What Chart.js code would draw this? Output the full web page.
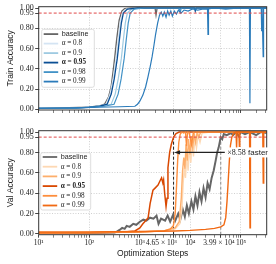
<!DOCTYPE html>
<html>
<head>
<meta charset="utf-8">
<script src="https://cdn.jsdelivr.net/npm/chart.js@4.4.1/dist/chart.umd.min.js"></script>
<style>
    html, body { margin: 0; padding: 0; background: #ffffff; }
    canvas { position: absolute; left: 0; }
    #trainChart { top: 0; }
    #valChart { top: 120px; }
</style>
</head>
<body>
<canvas id="trainChart" width="276" height="120"></canvas>
<canvas id="valChart" width="276" height="144"></canvas>
<script>
// ---- data ----
const STEP_MIN = 10;
const STEP_MAX = 323000;
const THRESHOLD = 0.95;

const yTicks = [0, 0.2, 0.4, 0.6, 0.8, 0.95, 1.0];
const yGridLines = [0.2, 0.4, 0.6, 0.8];
const xMajorTicks = [10, 100, 1000, 4650, 10000, 39900, 100000];
const xMajorLabels = ["10¹", "10²", "10³", "4.65 × 10³\u00a0\u00a0\u00a0\u00a0\u00a0\u00a0\u00a0\u00a0\u00a0\u00a0\u00a0\u00a0\u00a0", "10⁴", "3.99 × 10⁴\u00a0\u00a0", "10⁵"];
const xGridLines = [100, 1000, 4650, 10000, 39900, 100000];

const seriesLabels = ["baseline", "α = 0.8", "α = 0.9", "α = 0.95", "α = 0.98", "α = 0.99"];
const trainColors = ["#666666", "#d4e4f3", "#9ecae1", "#0b4f94", "#4292c6", "#2b7bba"];
const valColors = ["#666666", "#fdd8b3", "#fdae6b", "#d94801", "#fd8d3c", "#f16913"];

// train accuracy
const trainBaseSteps = [10, 40, 100, 160, 200, 240, 270, 300, 320, 350, 390, 440, 500, 700, 1000, 2000, 2090, 2200, 5000, 20000, 100000, 323000];
const trainBaseAcc = [0.01, 0.015, 0.02, 0.035, 0.05, 0.12, 0.22, 0.40, 0.52, 0.70, 0.88, 0.97, 0.995, 1.0, 1.0, 1.0, 0.93, 1.0, 1.0, 1.0, 1.0, 1.0];
const trainA80Steps = [10, 50, 100, 160, 214, 258, 296, 340, 372, 408, 448, 538, 800, 3000, 30000, 323000];
const trainA80Acc = [0.01, 0.012, 0.02, 0.035, 0.05, 0.15, 0.30, 0.50, 0.68, 0.85, 0.95, 0.99, 1.0, 1.0, 1.0, 1.0];
const trainA90Steps = [10, 50, 100, 170, 271, 326, 374, 430, 471, 516, 566, 681, 1000, 5000, 50000, 323000];
const trainA90Acc = [0.01, 0.012, 0.02, 0.035, 0.05, 0.15, 0.30, 0.50, 0.68, 0.85, 0.95, 0.99, 1.0, 1.0, 1.0, 1.0];
const trainA95Steps = [10, 50, 100, 160, 226, 272, 312, 358, 393, 431, 472, 568, 900, 3000, 12000, 12500, 13000, 60000, 323000];
const trainA95Acc = [0.01, 0.012, 0.02, 0.03, 0.05, 0.15, 0.30, 0.50, 0.68, 0.85, 0.95, 0.99, 1.0, 1.0, 1.0, 0.97, 1.0, 1.0, 1.0];
const trainA98Steps = [10, 50, 100, 200, 309, 372, 427, 490, 537, 589, 646, 776, 1200, 4000, 6000, 6300, 6600, 30000, 323000];
const trainA98Acc = [0.01, 0.012, 0.02, 0.03, 0.05, 0.15, 0.30, 0.50, 0.68, 0.85, 0.95, 0.99, 1.0, 1.0, 1.0, 0.96, 1.0, 1.0, 1.0];
const trainA99Steps = [10, 50, 150, 400, 800, 900, 1000, 1150, 1300, 1450, 1600, 1750, 1900, 2050, 2250, 2450, 2650, 2850, 3050, 3300, 3550, 3800, 4100, 4400, 4800, 5300, 5800, 6500, 7500, 9000, 11000, 14000, 18000, 21800, 22300, 22800, 30000, 50000, 90000, 147000, 150500, 154000, 200000, 252000, 257000, 262000, 270000, 275000, 280000, 323000];
const trainA99Acc = [0.01, 0.015, 0.02, 0.025, 0.03, 0.05, 0.08, 0.14, 0.22, 0.32, 0.42, 0.52, 0.63, 0.74, 0.85, 0.93, 0.96, 0.92, 0.96, 0.91, 0.97, 0.93, 0.97, 0.92, 0.97, 0.94, 0.98, 0.95, 0.98, 0.97, 0.99, 0.98, 0.99, 0.99, 0.74, 0.99, 1.0, 0.99, 1.0, 1.0, 0.06, 1.0, 1.0, 1.0, 0.77, 1.0, 1.0, 0.52, 1.0, 1.0];

// val accuracy
const valBaseSteps = [10, 100, 316, 347, 398, 447, 501, 550, 631, 741, 851, 1000, 1175, 1349, 1585, 1862, 2138, 2344, 2630, 3162, 3548, 3981, 4571, 5012, 5754, 6310, 7079, 7762, 8511, 9333, 10471, 11482, 12589, 13804, 15136, 16596, 18197, 19953, 21878, 23988, 26303, 28840, 31623, 33884, 36308, 39811, 42658, 45709, 52481, 63096, 70000, 80000, 90000, 100000, 120000, 150000, 200000, 250000, 323000];
const valBaseAcc = [0.01, 0.01, 0.015, 0.02, 0.04, 0.06, 0.05, 0.08, 0.07, 0.10, 0.09, 0.12, 0.14, 0.13, 0.16, 0.15, 0.18, 0.10, 0.15, 0.13, 0.18, 0.12, 0.19, 0.13, 0.20, 0.14, 0.24, 0.17, 0.28, 0.20, 0.32, 0.24, 0.37, 0.28, 0.41, 0.32, 0.45, 0.36, 0.50, 0.44, 0.55, 0.62, 0.72, 0.80, 0.85, 0.95, 0.93, 0.98, 0.97, 0.99, 0.97, 1.0, 0.96, 1.0, 0.98, 1.0, 0.97, 1.0, 0.99];
const valA80Steps = [10, 1000, 3000, 5000, 6200, 6800, 7200, 7600, 8000, 8500, 9000, 9600, 10200, 10800, 11500, 12300, 13200, 14200, 15500, 17000, 25000, 60000, 323000];
const valA80Acc = [0.01, 0.02, 0.03, 0.05, 0.10, 0.25, 0.50, 0.65, 0.55, 0.78, 0.62, 0.85, 0.70, 0.92, 0.76, 0.95, 0.84, 0.97, 0.90, 0.99, 1.0, 1.0, 1.0];
const valA90Steps = [10, 1000, 3000, 5000, 6000, 6600, 7000, 7400, 7800, 8200, 8700, 9200, 9800, 10400, 11100, 11900, 12700, 13600, 14600, 16000, 20000, 50000, 323000];
const valA90Acc = [0.01, 0.02, 0.03, 0.06, 0.12, 0.35, 0.62, 0.75, 0.64, 0.88, 0.72, 0.93, 0.78, 0.96, 0.85, 0.98, 0.90, 1.0, 0.95, 1.0, 1.0, 1.0, 1.0];
const valA95Steps = [10, 100, 500, 800, 1000, 1150, 1300, 1460, 1600, 1820, 2000, 2290, 2500, 2690, 2850, 2950, 3100, 3300, 3450, 3600, 3890, 4200, 4650, 5200, 6000, 10000, 30000, 100000, 323000];
const valA95Acc = [0.01, 0.012, 0.02, 0.03, 0.06, 0.10, 0.13, 0.16, 0.30, 0.43, 0.45, 0.48, 0.52, 0.55, 0.50, 0.53, 0.40, 0.27, 0.35, 0.65, 0.80, 0.88, 0.95, 0.985, 1.0, 1.0, 1.0, 1.0, 1.0];
const valA98Steps = [10, 100, 1000, 3000, 4000, 4600, 5000, 5300, 5600, 5900, 6300, 6800, 7300, 8000, 8400, 8800, 9500, 10500, 11500, 14000, 20000, 50000, 100000, 323000];
const valA98Acc = [0.01, 0.012, 0.02, 0.03, 0.05, 0.08, 0.20, 0.45, 0.72, 0.90, 0.98, 1.0, 0.99, 1.0, 0.86, 1.0, 0.99, 0.88, 1.0, 1.0, 1.0, 1.0, 1.0, 1.0];
const valA99Steps = [10, 100, 1000, 5000, 10000, 20000, 30000, 40000, 46000, 50000, 53000, 56000, 59000, 62000, 66000, 72000, 80000, 82000, 84000, 91000, 93000, 95000, 120000, 148000, 151000, 154000, 200000, 270000, 276000, 282000, 323000];
const valA99Acc = [0.02, 0.02, 0.025, 0.03, 0.035, 0.045, 0.055, 0.07, 0.09, 0.16, 0.32, 0.52, 0.72, 0.87, 0.95, 0.99, 1.0, 0.84, 1.0, 1.0, 0.86, 1.0, 1.0, 1.0, 0.06, 1.0, 1.0, 1.0, 0.50, 1.0, 1.0];

// speed-up annotation (val panel)
const markerSteps = [4650, 39900];
const markerColors = ["#222222", "#8a8a8a"];
const arrowFrom = 39900;
const arrowTo = 4650;
const arrowY = 0.8;
const speedupText = ["×8.58", " faster"];

// ---- helpers ----
const gridColor = "#c4c4c4";
const serif = "'Liberation Serif', 'DejaVu Serif', serif";
const sans = "'Liberation Sans', Arial, sans-serif";

const minorTicks = [];
for (let p = 1; p <= 5; p++) {
    for (let k = 2; k <= 9; k++) {
        const v = k * Math.pow(10, p);
        if (v < STEP_MAX) minorTicks.push(v);
    }
}
const xTickValues = [...xMajorTicks, ...minorTicks].sort((a, b) => a - b);

const toPoints = (steps, acc) => steps.map((s, i) => ({ x: s, y: acc[i] }));

const buildSeries = (stepsList, accList, colors, widths) =>
    stepsList.map((steps, i) => ({
        label: seriesLabels[i],
        data: toPoints(steps, accList[i]),
        borderColor: colors[i],
        borderWidth: widths[i],
        pointRadius: 0,
        order: -i,
    }));

const thresholdDataset = () => ({
    label: "threshold",
    data: [{ x: STEP_MIN, y: THRESHOLD }, { x: STEP_MAX, y: THRESHOLD }],
    borderColor: "#e04848",
    borderWidth: 1,
    borderDash: [3, 2],
    pointRadius: 0,
    order: -10,
});

const xScale = (showLabels, titleText) => ({
    type: "logarithmic",
    min: STEP_MIN,
    max: STEP_MAX,
    afterBuildTicks: (scale) => {
        scale.ticks = xTickValues.map((v) => ({ value: v }));
    },
    afterFit: (scale) => {
        scale.height = showLabels ? 29.3 : 10;
    },
    ticks: {
        autoSkip: false,
        maxRotation: 0,
        minRotation: 0,
        padding: 1,
        color: "#222",
        font: { family: serif, size: 7.5 },
        callback: (v) => {
            if (!showLabels) return "";
            const i = xMajorTicks.indexOf(v);
            return i >= 0 ? xMajorLabels[i] : "";
        },
    },
    grid: {
        color: (ctx) => (ctx.tick && xGridLines.includes(ctx.tick.value) ? gridColor : "rgba(0,0,0,0)"),
        lineWidth: 0.8,
        tickColor: "#333",
        tickLength: 3,
        tickWidth: (ctx) => (ctx.tick && xMajorTicks.includes(ctx.tick.value) ? 0.9 : 0.6),
        tickBorderDash: [],
    },
    border: { display: false, dash: [1, 1.6] },
    title: {
        display: !!titleText,
        text: titleText || "",
        color: "#222",
        font: { family: sans, size: 8.5 },
        padding: { top: 0, bottom: 5.6 },
    },
});

const yScale = (titleText) => ({
    min: -0.007,
    max: 1.013,
    afterBuildTicks: (scale) => {
        scale.ticks = yTicks.map((v) => ({ value: v }));
    },
    afterFit: (scale) => {
        scale.width = 38.7;
    },
    ticks: {
        autoSkip: false,
        padding: 1.5,
        color: "#222",
        font: { family: serif, size: 8 },
        callback: (v) => v.toFixed(2),
    },
    grid: {
        color: (ctx) => (ctx.tick && yGridLines.includes(ctx.tick.value) ? gridColor : "rgba(0,0,0,0)"),
        lineWidth: 0.8,
        tickColor: "#333",
        tickLength: 3.5,
        tickWidth: 0.9,
        tickBorderDash: [],
    },
    border: { display: false, dash: [1, 1.6] },
    title: {
        display: true,
        text: titleText,
        color: "#222",
        font: { family: sans, size: 8.5 },
        padding: { top: 6, bottom: 0 },
    },
});

const framePlugin = {
    id: "frame",
    afterDraw(chart) {
        const { ctx, chartArea: a } = chart;
        ctx.save();
        ctx.strokeStyle = "#333";
        ctx.lineWidth = 1;
        ctx.strokeRect(a.left, a.top, a.right - a.left, a.bottom - a.top);
        ctx.restore();
    },
};

// legend box in the upper-left of the plot
const insetLegend = (colors, box) => ({
    id: "insetLegend",
    afterDraw(chart) {
        const { ctx, chartArea: a } = chart;
        const left = a.left + box.dx;
        const top = a.top + box.dy;
        ctx.save();
        ctx.fillStyle = "rgba(255,255,255,0.85)";
        ctx.strokeStyle = "#d4d4d4";
        ctx.lineWidth = 0.8;
        ctx.beginPath();
        ctx.roundRect(left, top, box.w, box.h, 2);
        ctx.fill();
        ctx.stroke();
        seriesLabels.forEach((label, i) => {
            const y = top + box.first + i * box.gap;
            ctx.strokeStyle = colors[i];
            ctx.lineWidth = 1.8;
            ctx.beginPath();
            ctx.moveTo(left + 2, y);
            ctx.lineTo(left + 16.5, y);
            ctx.stroke();
            ctx.fillStyle = "#222";
            ctx.textBaseline = "middle";
            if (i === 0) ctx.font = `7.2px ${sans}`;
            else if (i === 3) ctx.font = `bold 7.2px ${serif}`;
            else ctx.font = `7.2px ${serif}`;
            ctx.fillText(label, left + 20, y);
        });
        ctx.restore();
    },
});

const speedupArrow = {
    id: "speedupArrow",
    afterDraw(chart) {
        const { ctx, scales } = chart;
        const x0 = scales.x.getPixelForValue(arrowFrom);
        const x1 = scales.x.getPixelForValue(arrowTo);
        const y = scales.y.getPixelForValue(arrowY);
        ctx.save();
        ctx.strokeStyle = "#222";
        ctx.fillStyle = "#222";
        ctx.lineWidth = 1.2;
        ctx.beginPath();
        ctx.moveTo(x0 + 4, y);
        ctx.lineTo(x1 + 5, y);
        ctx.stroke();
        ctx.beginPath();
        ctx.moveTo(x1 + 0.5, y);
        ctx.lineTo(x1 + 6.5, y - 2.2);
        ctx.lineTo(x1 + 6.5, y + 2.2);
        ctx.closePath();
        ctx.fill();

        const tx = x0 + 6.5;
        ctx.font = `8px ${serif}`;
        const w1 = ctx.measureText(speedupText[0]).width;
        ctx.font = `8px ${sans}`;
        const w2 = ctx.measureText(speedupText[1]).width;
        ctx.fillStyle = "#ffffff";
        ctx.fillRect(tx - 1, y - 5, w1 + w2 + 2, 10);
        ctx.fillStyle = "#222";
        ctx.textBaseline = "middle";
        ctx.font = `8px ${serif}`;
        ctx.fillText(speedupText[0], tx, y + 0.3);
        ctx.font = `8px ${sans}`;
        ctx.fillText(speedupText[1], tx + w1, y + 0.3);
        ctx.restore();
    },
};

const baseOptions = (padTop, titleX, titleY) => ({
    responsive: false,
    animation: false,
    devicePixelRatio: 1,
    layout: { padding: { top: padTop, right: 9.3, left: 0, bottom: 0 } },
    plugins: { legend: { display: false }, tooltip: { enabled: false } },
    scales: { x: xScale(!!titleX, titleX), y: yScale(titleY) },
});

// ---- train panel ----
const trainDatasets = [
    thresholdDataset(),
    ...buildSeries(
        [trainBaseSteps, trainA80Steps, trainA90Steps, trainA95Steps, trainA98Steps, trainA99Steps],
        [trainBaseAcc, trainA80Acc, trainA90Acc, trainA95Acc, trainA98Acc, trainA99Acc],
        trainColors,
        [1.3, 1.2, 1.2, 1.3, 1.2, 1.2]
    ),
];

new Chart(document.getElementById("trainChart"), {
    type: "line",
    data: { datasets: trainDatasets },
    options: baseOptions(6.7, null, "Train Accuracy"),
    plugins: [framePlugin, insetLegend(trainColors, { dx: 3, dy: 22.6, w: 52.6, h: 58, first: 4.8, gap: 9.5 })],
});

// ---- val panel ----
const markerDatasets = markerSteps.map((s, i) => ({
    label: "marker",
    data: [{ x: s, y: -0.007 }, { x: s, y: 1.0 }],
    borderColor: markerColors[i],
    borderWidth: 1,
    borderDash: [3, 2],
    pointRadius: 0,
    order: 5,
}));

const valDatasets = [
    thresholdDataset(),
    ...markerDatasets,
    ...buildSeries(
        [valBaseSteps, valA80Steps, valA90Steps, valA95Steps, valA98Steps, valA99Steps],
        [valBaseAcc, valA80Acc, valA90Acc, valA95Acc, valA98Acc, valA99Acc],
        valColors,
        [2.0, 1.4, 1.4, 1.5, 1.4, 1.4]
    ),
];

new Chart(document.getElementById("valChart"), {
    type: "line",
    data: { datasets: valDatasets },
    options: baseOptions(10.7, "Optimization Steps", "Val Accuracy"),
    plugins: [framePlugin, speedupArrow, insetLegend(valColors, { dx: 2, dy: 22, w: 50, h: 57.3, first: 4.3, gap: 9.7 })],
});
</script>
</body>
</html>
